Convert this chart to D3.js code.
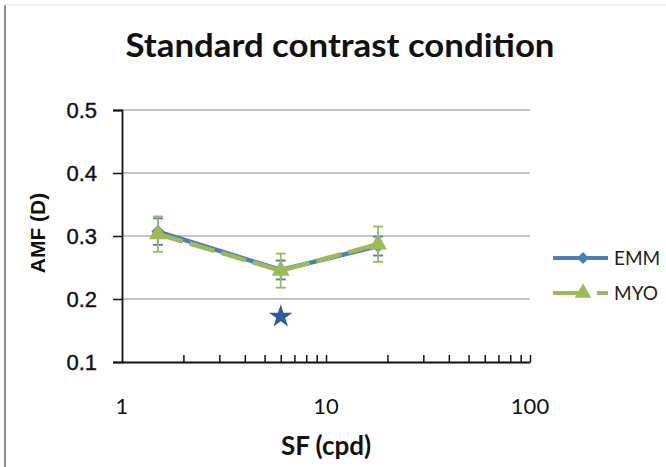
<!DOCTYPE html>
<html>
<head>
<meta charset="utf-8">
<script src="https://cdn.jsdelivr.net/npm/d3@7"></script>
<style>
  body { margin: 0; background: #fff; }
</style>
</head>
<body>
<svg id="chart" width="666" height="467"></svg>
<script>
// data
const sf = [1.5, 6, 18];
const emm = [0.307, 0.246, 0.284];
const emmErr = [0.021, 0.015, 0.015];
const myo = [0.303, 0.245, 0.287];
const myoErr = [0.028, 0.027, 0.028];
const yTicks = [0.1, 0.2, 0.3, 0.4, 0.5];
const xLabels = [1, 10, 100];
const starAt = [6, 0.172];

const cfg = {
  blue: "#4a7ebb",
  green: "#9bbb59",
  starColor: "#2c5a9a",
  grid: "#b0b0b0",
  sans: "'Liberation Sans', Arial, sans-serif",
  cal: "Lato, 'Open Sans', sans-serif",
  left: 122, right: 530, top: 110, bottom: 362
};

const svg = d3.select("#chart");

// frame lines (edge of the pasted slide)
svg.append("line").attr("x1", 5).attr("x2", 5).attr("y1", 5).attr("y2", 467)
  .attr("stroke", "#8c8c8c").attr("stroke-width", 2);
svg.append("line").attr("x1", 5).attr("x2", 666).attr("y1", 5).attr("y2", 5)
  .attr("stroke", "#e4e4e4").attr("stroke-width", 1);

const x = d3.scaleLog().domain([1, 100]).range([cfg.left, cfg.right]);
const y = d3.scaleLinear().domain([0.1, 0.5]).range([cfg.bottom, cfg.top]);

// grid
svg.append("g").selectAll("line")
  .data(yTicks.slice(1))
  .enter().append("line")
  .attr("x1", cfg.left).attr("x2", cfg.right)
  .attr("y1", d => y(d)).attr("y2", d => y(d))
  .attr("stroke", cfg.grid).attr("stroke-width", 1.3);

// y axis
const yAxis = svg.append("g")
  .attr("transform", `translate(${cfg.left},0)`)
  .call(d3.axisLeft(y).tickValues(yTicks).tickFormat(d3.format(".1f")).tickSize(9).tickPadding(16));
yAxis.select(".domain").attr("stroke", "#111").attr("stroke-width", 1.8);
yAxis.selectAll(".tick line").attr("stroke", "#111").attr("stroke-width", 1.5);
yAxis.selectAll("text")
  .attr("font-family", cfg.sans)
  .attr("font-size", 22).attr("fill", "#111")
  .attr("stroke", "#111").attr("stroke-width", 0.4);

// x axis (log, minor ticks inside)
const xTickVals = [];
[1, 10].forEach(dec => { for (let k = 2; k <= 10; k++) xTickVals.push(dec * k); });
const xAxis = svg.append("g")
  .attr("transform", `translate(0,${cfg.bottom})`)
  .call(d3.axisTop(x).tickValues(xTickVals).tickFormat("").tickSize(7).tickSizeOuter(0));
xAxis.select(".domain").attr("stroke", "#111").attr("stroke-width", 1.8);
xAxis.selectAll(".tick line").attr("stroke", "#111").attr("stroke-width", 1.5);

svg.append("g").selectAll("text")
  .data(xLabels)
  .enter().append("text")
  .attr("x", d => x(d))
  .attr("y", 414)
  .attr("text-anchor", "middle")
  .attr("font-family", cfg.cal)
  .attr("font-size", 22)
  .attr("fill", "#111")
  .text(d => d);

// titles
svg.append("text")
  .attr("x", 340).attr("y", 57)
  .attr("text-anchor", "middle")
  .attr("font-family", cfg.cal)
  .attr("font-weight", "bold")
  .attr("font-size", 32)
  .attr("textLength", 429).attr("lengthAdjust", "spacingAndGlyphs")
  .attr("fill", "#111")
  .text("Standard contrast condition");

svg.append("text")
  .attr("x", 326).attr("y", 455)
  .attr("text-anchor", "middle")
  .attr("font-family", cfg.cal)
  .attr("font-weight", "bold")
  .attr("font-size", 26)
  .attr("fill", "#111")
  .text("SF (cpd)");

svg.append("text")
  .attr("transform", "translate(45,233) rotate(-90)")
  .attr("text-anchor", "middle")
  .attr("font-family", cfg.sans)
  .attr("font-weight", "bold")
  .attr("font-size", 21)
  .attr("fill", "#111")
  .text("AMF (D)");

// series
const series = [
  { name: "EMM", vals: emm, err: emmErr, color: cfg.blue, dash: null, marker: "diamond" },
  { name: "MYO", vals: myo, err: myoErr, color: cfg.green, dash: "26,7", marker: "triangle" }
];

const line = d3.line().x(d => x(d[0])).y(d => y(d[1]));

series.forEach(s => {
  const pts = sf.map((v, i) => [v, s.vals[i], s.err[i]]);
  const g = svg.append("g");

  // error bars
  const eb = g.selectAll(".eb").data(pts).enter().append("g");
  eb.append("line")
    .attr("x1", d => x(d[0])).attr("x2", d => x(d[0]))
    .attr("y1", d => y(d[1] - d[2])).attr("y2", d => y(d[1] + d[2]))
    .attr("stroke", s.color).attr("stroke-width", 1.8);
  [-1, 1].forEach(sg => {
    eb.append("line")
      .attr("x1", d => x(d[0]) - 5).attr("x2", d => x(d[0]) + 5)
      .attr("y1", d => y(d[1] + sg * d[2])).attr("y2", d => y(d[1] + sg * d[2]))
      .attr("stroke", s.color).attr("stroke-width", 1.8);
  });

  g.append("path")
    .attr("d", line(pts))
    .attr("fill", "none")
    .attr("stroke", s.color)
    .attr("stroke-width", 4.5)
    .attr("stroke-dasharray", s.dash);

  const sym = s.marker === "diamond" ? d3.symbolDiamond2 : d3.symbolTriangle;
  g.selectAll(".m").data(pts).enter().append("path")
    .attr("transform", d => `translate(${x(d[0])},${y(d[1])})`)
    .attr("d", d3.symbol().type(sym).size(s.marker === "diamond" ? 110 : 140))
    .attr("fill", s.color);
});

// significance star
svg.append("path")
  .attr("transform", `translate(${x(starAt[0])},${y(starAt[1])})`)
  .attr("d", d3.symbol().type(d3.symbolStar).size(170))
  .attr("fill", cfg.starColor);

// legend
const leg = svg.append("g");
series.forEach((s, i) => {
  const ly = 258 + i * 35;
  if (s.dash) {
    leg.append("line").attr("x1", 553).attr("x2", 583).attr("y1", ly).attr("y2", ly)
      .attr("stroke", s.color).attr("stroke-width", 4);
    leg.append("line").attr("x1", 597).attr("x2", 608).attr("y1", ly).attr("y2", ly)
      .attr("stroke", s.color).attr("stroke-width", 4);
  } else {
    leg.append("line").attr("x1", 553).attr("x2", 608).attr("y1", ly).attr("y2", ly)
      .attr("stroke", s.color).attr("stroke-width", 4);
  }
  const sym = s.marker === "diamond" ? d3.symbolDiamond2 : d3.symbolTriangle;
  leg.append("path")
    .attr("transform", `translate(583,${ly})`)
    .attr("d", d3.symbol().type(sym).size(s.marker === "diamond" ? 90 : 120))
    .attr("fill", s.color);
  leg.append("text")
    .attr("x", 614).attr("y", ly + 7)
    .attr("font-family", cfg.cal)
    .attr("font-size", 19)
    .attr("fill", "#222")
    .text(s.name);
});
</script>
</body>
</html>
